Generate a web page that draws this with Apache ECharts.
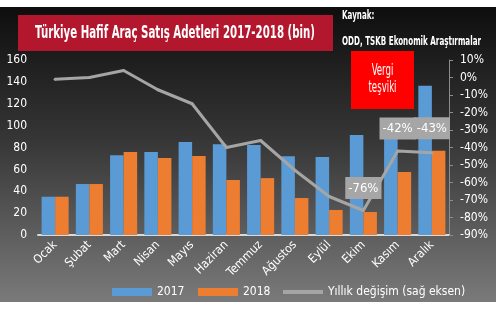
<!DOCTYPE html>
<html>
<head>
<meta charset="utf-8">
<script src="https://cdn.jsdelivr.net/npm/echarts@6/dist/echarts.min.js"></script>
<style>
html,body{margin:0;padding:0;background:#fff;}
#c{width:496px;height:324px;}
</style>
</head>
<body>
<div id="c"></div>
<script>
var categories = ['Ocak','Şubat','Mart','Nisan','Mayıs','Haziran','Temmuz','Ağustos','Eylül','Ekim','Kasım','Aralık'];
var sales2017 = [35, 46.6, 73, 76, 85, 83, 82.3, 72, 71.3, 91.4, 99, 136.5];
var sales2018 = [35, 46.6, 76, 70.4, 72.2, 50.3, 52, 33.8, 22.9, 21, 57.6, 77];
var yoyChange = [-1, 0, 4, -7, -15, -40, -36, -53, -68, -76, -42, -43];
var labeledMonths = ['Ekim','Kasım','Aralık'];
var leftTicks = {min:0, max:160, interval:20};
var rightTicks = {min:-90, max:10, interval:10};
var titleText = 'Türkiye Hafif Araç Satış Adetleri 2017-2018 (bin)';
var sourceLines = ['Kaynak:', 'ODD, TSKB Ekonomik Araştırmalar'];
var noteLines = ['Vergi', 'teşviki'];
var seriesNames = ['2017', '2018', 'Yıllık değişim (sağ eksen)'];

var FF = "'Liberation Sans Narrow','DejaVu Sans Condensed','Noto Sans',sans-serif";
var mc = document.createElement('canvas').getContext('2d');
function fitScale(text, font, target){ mc.font = font; var w = mc.measureText(text).width; return w > 0 ? target / w : 1; }

var titleFont = 'bold 18px ' + FF;
var srcFont = 'bold 12px ' + FF;
var noteFont = '16px ' + FF;

var lineData = yoyChange.map(function(v, i){
  if (labeledMonths.indexOf(categories[i]) >= 0) {
    return {value: v, label: {show: true, distance: (i === 11 ? 12 : 10)}};
  }
  return v;
});

var legendText = {color:'#ffffff', fontSize:12, fontFamily:FF};
var chart = echarts.init(document.getElementById('c'), null, {renderer:'canvas'});
chart.setOption({
  backgroundColor: '#ffffff',
  animation: false,
  graphic: [
    {type:'rect', z:-10, silent:true, shape:{x:0, y:7, width:496, height:295},
     style:{fill:{type:'linear', x:0, y:0, x2:0, y2:1, colorStops:[
       {offset:0, color:'#0e0e0e'}, {offset:0.45, color:'#363636'}, {offset:1, color:'#7a7a7a'}]}}},
    {type:'rect', z:5, shape:{x:18, y:15, width:315, height:36}, style:{fill:'#b3172e'}},
    {type:'text', z:6, x:175, y:33, scaleX: fitScale(titleText, titleFont, 280),
     style:{text:titleText, fill:'#ffffff', font:titleFont, textAlign:'center', textVerticalAlign:'middle'}},
    {type:'text', z:6, x:342, y:16, scaleX: fitScale(sourceLines[1], srcFont, 139),
     style:{text:sourceLines[0], fill:'#ffffff', font:srcFont, textAlign:'left', textVerticalAlign:'middle'}},
    {type:'text', z:6, x:342, y:42, scaleX: fitScale(sourceLines[1], srcFont, 139),
     style:{text:sourceLines[1], fill:'#ffffff', font:srcFont, textAlign:'left', textVerticalAlign:'middle'}},
    {type:'rect', z:5, shape:{x:351, y:51, width:63, height:58}, style:{fill:'#ff0000'}},
    {type:'text', z:6, x:382.5, y:71, scaleX: fitScale(noteLines[1], noteFont, 28),
     style:{text:noteLines[0], fill:'#ffffff', font:noteFont, textAlign:'center', textVerticalAlign:'middle'}},
    {type:'text', z:6, x:382.5, y:88, scaleX: fitScale(noteLines[1], noteFont, 28),
     style:{text:noteLines[1], fill:'#ffffff', font:noteFont, textAlign:'center', textVerticalAlign:'middle'}}
  ],
  grid: {left:38, right:47, top:60, bottom:89, containLabel:false},
  legend: [
    {left:112, top:286, padding:0, itemWidth:40, itemHeight:8, textStyle:legendText,
     data:[{name: seriesNames[0], icon:'rect'}]},
    {left:198, top:286, padding:0, itemWidth:40, itemHeight:8, textStyle:legendText,
     data:[{name: seriesNames[1], icon:'rect'}]},
    {left:283, top:286, padding:0, itemWidth:40, itemHeight:4, textStyle:legendText,
     data:[{name: seriesNames[2], icon:'rect'}]}
  ],
  xAxis: {
    type:'category', data: categories,
    axisLine: {show:true, lineStyle:{color:'#d9d9d9', width:2}},
    axisTick: {show:false},
    axisLabel: {color:'#ffffff', rotate:45, fontSize:12, fontFamily:FF, margin:8, interval:0}
  },
  yAxis: [
    {type:'value', min:leftTicks.min, max:leftTicks.max, interval:leftTicks.interval,
     splitLine:{show:false}, axisLine:{show:false}, axisTick:{show:false},
     axisLabel:{color:'#ffffff', fontSize:12, fontFamily:FF, margin:11}},
    {type:'value', position:'right', min:rightTicks.min, max:rightTicks.max, interval:rightTicks.interval,
     splitLine:{show:false},
     axisLine:{show:true, lineStyle:{color:'#8c8c8c', width:1}},
     axisTick:{show:true, length:4, lineStyle:{color:'#8c8c8c'}},
     axisLabel:{color:'#ffffff', fontSize:12, fontFamily:FF, margin:11, formatter:function(v){return v + '%';}}}
  ],
  series: [
    {name: seriesNames[0], type:'bar', data: sales2017, barGap:'0%', barCategoryGap:'21%',
     itemStyle:{color:'#5b9bd5'}},
    {name: seriesNames[1], type:'bar', data: sales2018, barGap:'0%', barCategoryGap:'21%',
     itemStyle:{color:'#ed7d31'}},
    {name: seriesNames[2], type:'line', yAxisIndex:1, data: lineData,
     symbol:'circle', symbolSize:3, showSymbol:true,
     lineStyle:{color:'#a5a5a5', width:3}, itemStyle:{color:'#a5a5a5'}, z:3,
     label:{show:false, position:'top', formatter:function(p){return p.value + '%';},
            color:'#ffffff', fontSize:13, fontFamily:FF, backgroundColor:'#a6a6a6',
            padding:[5,3,4,3]}}
  ]
});
</script>
</body>
</html>
